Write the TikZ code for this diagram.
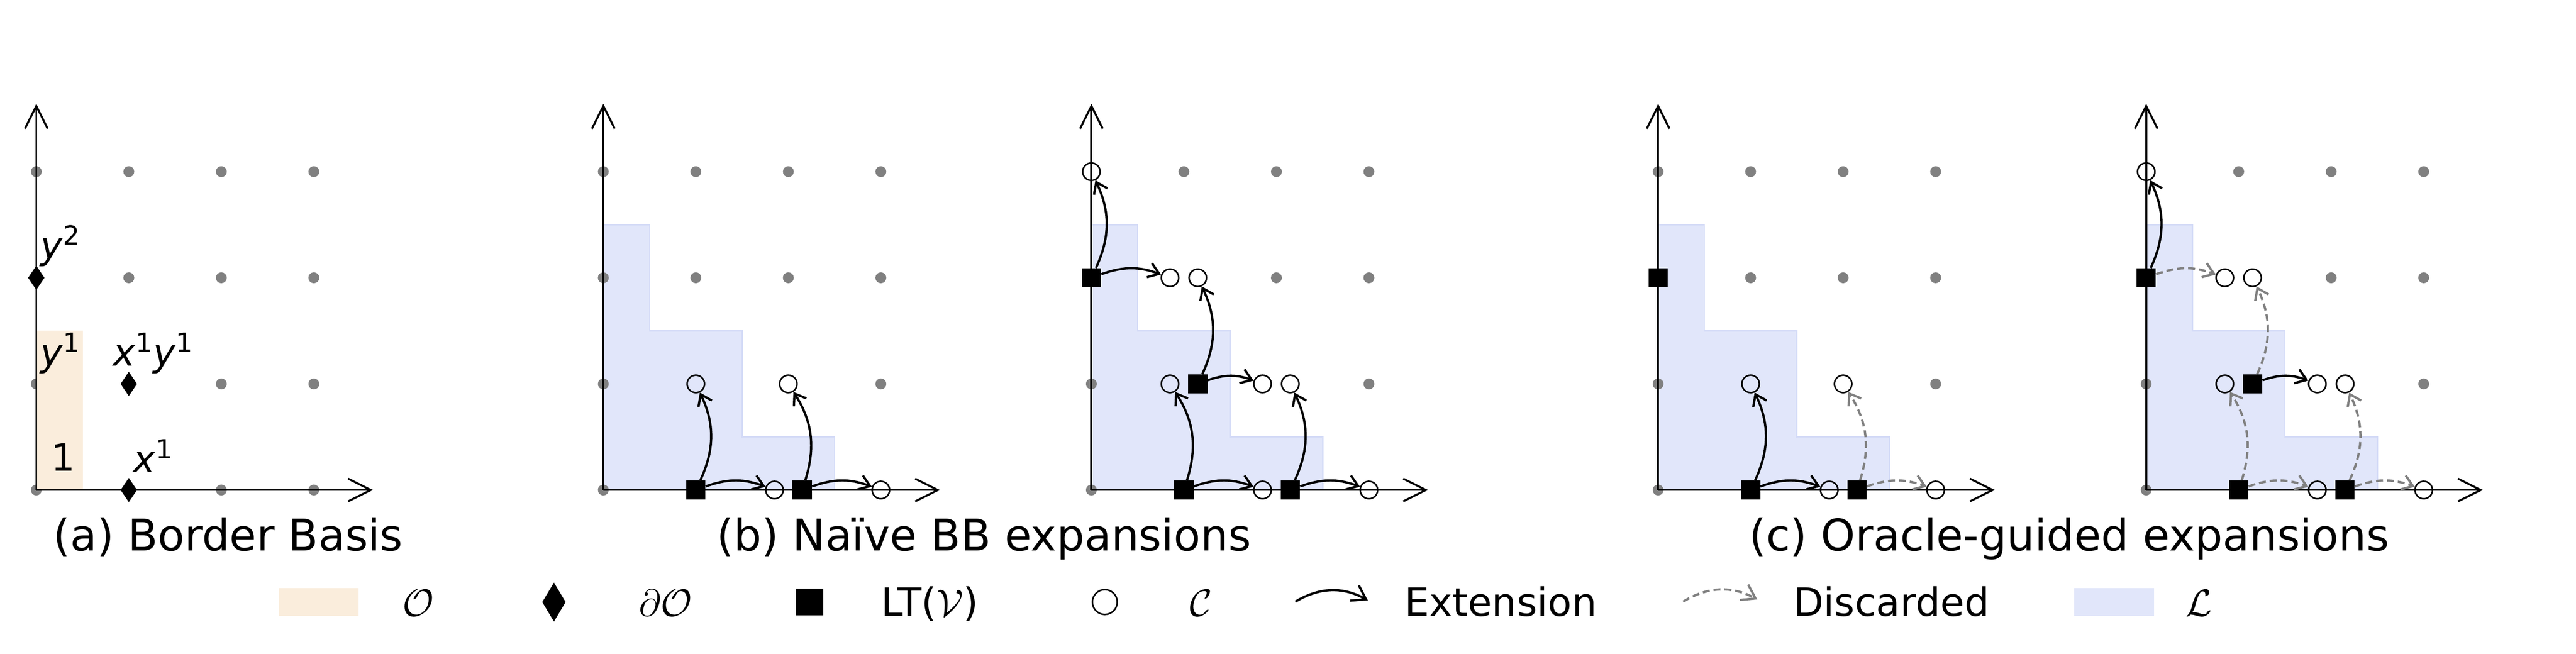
\documentclass[tikz,border=0pt]{standalone}
\usepackage{fontspec}
\setmainfont{DejaVu Sans}
\usetikzlibrary{arrows.meta,shapes.geometric}
\definecolor{opatch}{RGB}{250,237,220}
\definecolor{lpatch}{RGB}{225,230,250}
\definecolor{ledge}{RGB}{212,219,247}
% Axes of one panel
\newcommand{\drawaxes}{%
  \draw[axisline] (0,0) -- (3.64,0);
  \draw[axisline] (0,0) -- (0,3.64);}
% Staircase region L
\newcommand{\drawstairs}{%
  \filldraw[stairs] (0,0) -- (0,2.5) -- (0.5,2.5) -- (0.5,1.5) -- (1.5,1.5) -- (1.5,0.5) -- (2.5,0.5) -- (2.5,0) -- cycle;}
\begin{document}
\begin{tikzpicture}[
  dotc/.style={gray},
  cand/.style={circle, draw, line width=0.035cm, inner sep=0pt, minimum size=0.40cm},
  lead/.style={rectangle, fill=black, inner sep=0pt, minimum size=0.44cm},
  bord/.style={diamond, fill=black, inner sep=0pt, minimum width=0.38cm, minimum height=0.56cm},
  axisline/.style={line width=0.045cm, -{Straight Barb[length=0.52cm, width=0.52cm]}},
  ext/.style={line width=0.052cm, -{Straight Barb[length=0.24cm, width=0.34cm]}},
  drop/.style={ext, gray, dash pattern=on 0.16cm off 0.09cm},
  legext/.style={line width=0.052cm, -{Straight Barb[length=0.3cm, width=0.4cm]}},
  stairs/.style={fill=lpatch, draw=ledge, line width=0.03cm},
  lbl/.style={inner sep=0pt, font=\fontsize{24.5}{29}\selectfont},
  capt/.style={anchor=base, inner sep=0pt, font=\fontsize{28.5}{34}\selectfont},
  leg/.style={anchor=base west, inner sep=0pt, font=\fontsize{25.5}{30}\selectfont},
]
\useasboundingbox (0,0) rectangle (59.06,15);
% (a) Border basis
\begin{scope}[xshift=0.832cm, yshift=3.76cm, x=2.121cm, y=2.434cm]
\foreach \p in {(0,0),(0,1),(0,3),(1,2),(1,3),(2,0),(2,1),(2,2),(2,3),(3,0),(3,1),(3,2),(3,3)}
  \fill[dotc] \p circle[radius=0.125cm];
\fill[opatch] (0,0) rectangle (0.507,1.5);
\drawaxes
\node[bord] (ay2) at (0,2) {};
\node[bord] (axy) at (1,1) {};
\node[bord] (ax1) at (1,0) {};
\node[lbl] (tone) at (0.29,0.31) {1};
\node[lbl] (ty1) at (0.26,1.29) {\textit{y}\textsuperscript{1}};
\node[lbl] (ty2) at (0.26,2.30) {\textit{y}\textsuperscript{2}};
\node[lbl] (tx1) at (1.266,0.32) {\textit{x}\textsuperscript{1}};
\node[lbl] (txy) at (1.266,1.29) {\textit{x}\textsuperscript{1}\textit{y}\textsuperscript{1}};
\end{scope}
% (b) naive expansions, step 1
\begin{scope}[xshift=13.832cm, yshift=3.76cm, x=2.121cm, y=2.434cm]
\drawstairs
\foreach \p in {(0,0),(0,1),(0,2),(0,3),(1,2),(1,3),(2,2),(2,3),(3,1),(3,2),(3,3)}
  \fill[dotc] \p circle[radius=0.125cm];
\drawaxes
\node[lead] (b1v10) at (1,0) {};
\node[lead] (b1v20) at (2.15,0) {};
\node[cand] (b1c11) at (1,1) {};
\node[cand] (b1c21) at (2,1) {};
\node[cand] (b1c20) at (1.85,0) {};
\node[cand] (b1c30) at (3,0) {};
\draw[ext] (b1v10) to[bend right=25] (b1c11);
\draw[ext] (b1v10) to[bend left=20] (b1c20);
\draw[ext] (b1v20) to[bend right=25] (b1c21);
\draw[ext] (b1v20) to[bend left=20] (b1c30);
\end{scope}
% (b) naive expansions, step 2
\begin{scope}[xshift=25.022cm, yshift=3.76cm, x=2.121cm, y=2.434cm]
\drawstairs
\foreach \p in {(0,0),(0,1),(1,3),(2,3),(3,3),(2,2),(3,2),(3,1)}
  \fill[dotc] \p circle[radius=0.125cm];
\drawaxes
\node[lead] (b2v02) at (0,2) {};
\node[lead] (b2v11) at (1.15,1) {};
\node[lead] (b2v10) at (1,0) {};
\node[lead] (b2v20) at (2.15,0) {};
\node[cand] (b2c03) at (0,3) {};
\node[cand] (b2c12l) at (0.85,2) {};
\node[cand] (b2c12r) at (1.15,2) {};
\node[cand] (b2c11l) at (0.85,1) {};
\node[cand] (b2c21l) at (1.85,1) {};
\node[cand] (b2c21r) at (2.15,1) {};
\node[cand] (b2c20) at (1.85,0) {};
\node[cand] (b2c30) at (3,0) {};
\draw[ext] (b2v02) to[bend right=25] (b2c03);
\draw[ext] (b2v02) to[bend left=20] (b2c12l);
\draw[ext] (b2v11) to[bend right=25] (b2c12r);
\draw[ext] (b2v11) to[bend left=20] (b2c21l);
\draw[ext] (b2v10) to[bend right=25] (b2c11l);
\draw[ext] (b2v10) to[bend left=20] (b2c20);
\draw[ext] (b2v20) to[bend right=25] (b2c21r);
\draw[ext] (b2v20) to[bend left=20] (b2c30);
\end{scope}
% (c) oracle-guided, step 1
\begin{scope}[xshift=38.015cm, yshift=3.76cm, x=2.121cm, y=2.434cm]
\drawstairs
\foreach \p in {(0,0),(0,1),(0,3),(1,3),(2,3),(3,3),(1,2),(2,2),(3,2),(3,1)}
  \fill[dotc] \p circle[radius=0.125cm];
\drawaxes
\node[lead] (c1v02) at (0,2) {};
\node[lead] (c1v10) at (1,0) {};
\node[lead] (c1v20) at (2.15,0) {};
\node[cand] (c1c11) at (1,1) {};
\node[cand] (c1c21) at (2,1) {};
\node[cand] (c1c20) at (1.85,0) {};
\node[cand] (c1c30) at (3,0) {};
\draw[ext] (c1v10) to[bend right=25] (c1c11);
\draw[ext] (c1v10) to[bend left=20] (c1c20);
\draw[drop] (c1v20) to[bend right=25] (c1c21);
\draw[drop] (c1v20) to[bend left=20] (c1c30);
\end{scope}
% (c) oracle-guided, step 2
\begin{scope}[xshift=49.205cm, yshift=3.76cm, x=2.121cm, y=2.434cm]
\drawstairs
\foreach \p in {(0,0),(0,1),(1,3),(2,3),(3,3),(2,2),(3,2),(3,1)}
  \fill[dotc] \p circle[radius=0.125cm];
\drawaxes
\node[lead] (c2v02) at (0,2) {};
\node[lead] (c2v11) at (1.15,1) {};
\node[lead] (c2v10) at (1,0) {};
\node[lead] (c2v20) at (2.15,0) {};
\node[cand] (c2c03) at (0,3) {};
\node[cand] (c2c12l) at (0.85,2) {};
\node[cand] (c2c12r) at (1.15,2) {};
\node[cand] (c2c11l) at (0.85,1) {};
\node[cand] (c2c21l) at (1.85,1) {};
\node[cand] (c2c21r) at (2.15,1) {};
\node[cand] (c2c20) at (1.85,0) {};
\node[cand] (c2c30) at (3,0) {};
\draw[ext] (c2v02) to[bend right=25] (c2c03);
\draw[drop] (c2v02) to[bend left=20] (c2c12l);
\draw[drop] (c2v11) to[bend right=25] (c2c12r);
\draw[ext] (c2v11) to[bend left=20] (c2c21l);
\draw[drop] (c2v10) to[bend right=25] (c2c11l);
\draw[drop] (c2v10) to[bend left=20] (c2c20);
\draw[drop] (c2v20) to[bend right=25] (c2c21r);
\draw[drop] (c2v20) to[bend left=20] (c2c30);
\end{scope}
% Captions
\node[capt] (capa) at (5.23,2.37) {(a) Border Basis};
\node[capt] (capb) at (22.56,2.37) {(b) Naïve BB expansions};
\node[capt] (capc) at (47.44,2.37) {(c) Oracle-guided expansions};
% Legend
\fill[opatch] (6.39,0.87) rectangle (8.22,1.51);
\node[leg] (lo) at (9.22,0.87) {$\mathcal{O}$};
\node[bord, minimum width=0.54cm, minimum height=0.90cm] (lbord) at (12.70,1.19) {};
\node[leg] (ldo) at (14.64,0.87) {$\partial\mathcal{O}$};
\node[lead, minimum size=0.62cm] (llead) at (18.56,1.19) {};
\node[leg] (llt) at (20.20,0.87) {LT($\mathcal{V}$)};
\node[cand, minimum size=0.57cm] (lcand) at (25.33,1.19) {};
\node[leg] (lc) at (27.27,0.87) {$\mathcal{C}$};
\coordinate (e1) at (29.70,1.20);
\coordinate (e2) at (31.36,1.23);
\draw[legext] (e1) to[bend left=30] (e2);
\node[leg] (lext) at (32.20,0.87) {Extension};
\coordinate (d1) at (38.59,1.20);
\coordinate (d2) at (40.29,1.25);
\draw[legext, gray, dash pattern=on 0.16cm off 0.09cm] (d1) to[bend left=30] (d2);
\node[leg] (ldis) at (41.11,0.87) {Discarded};
\fill[lpatch] (47.55,0.87) rectangle (49.38,1.51);
\node[leg] (ll) at (50.10,0.87) {$\mathcal{L}$};
\end{tikzpicture}
\end{document}
